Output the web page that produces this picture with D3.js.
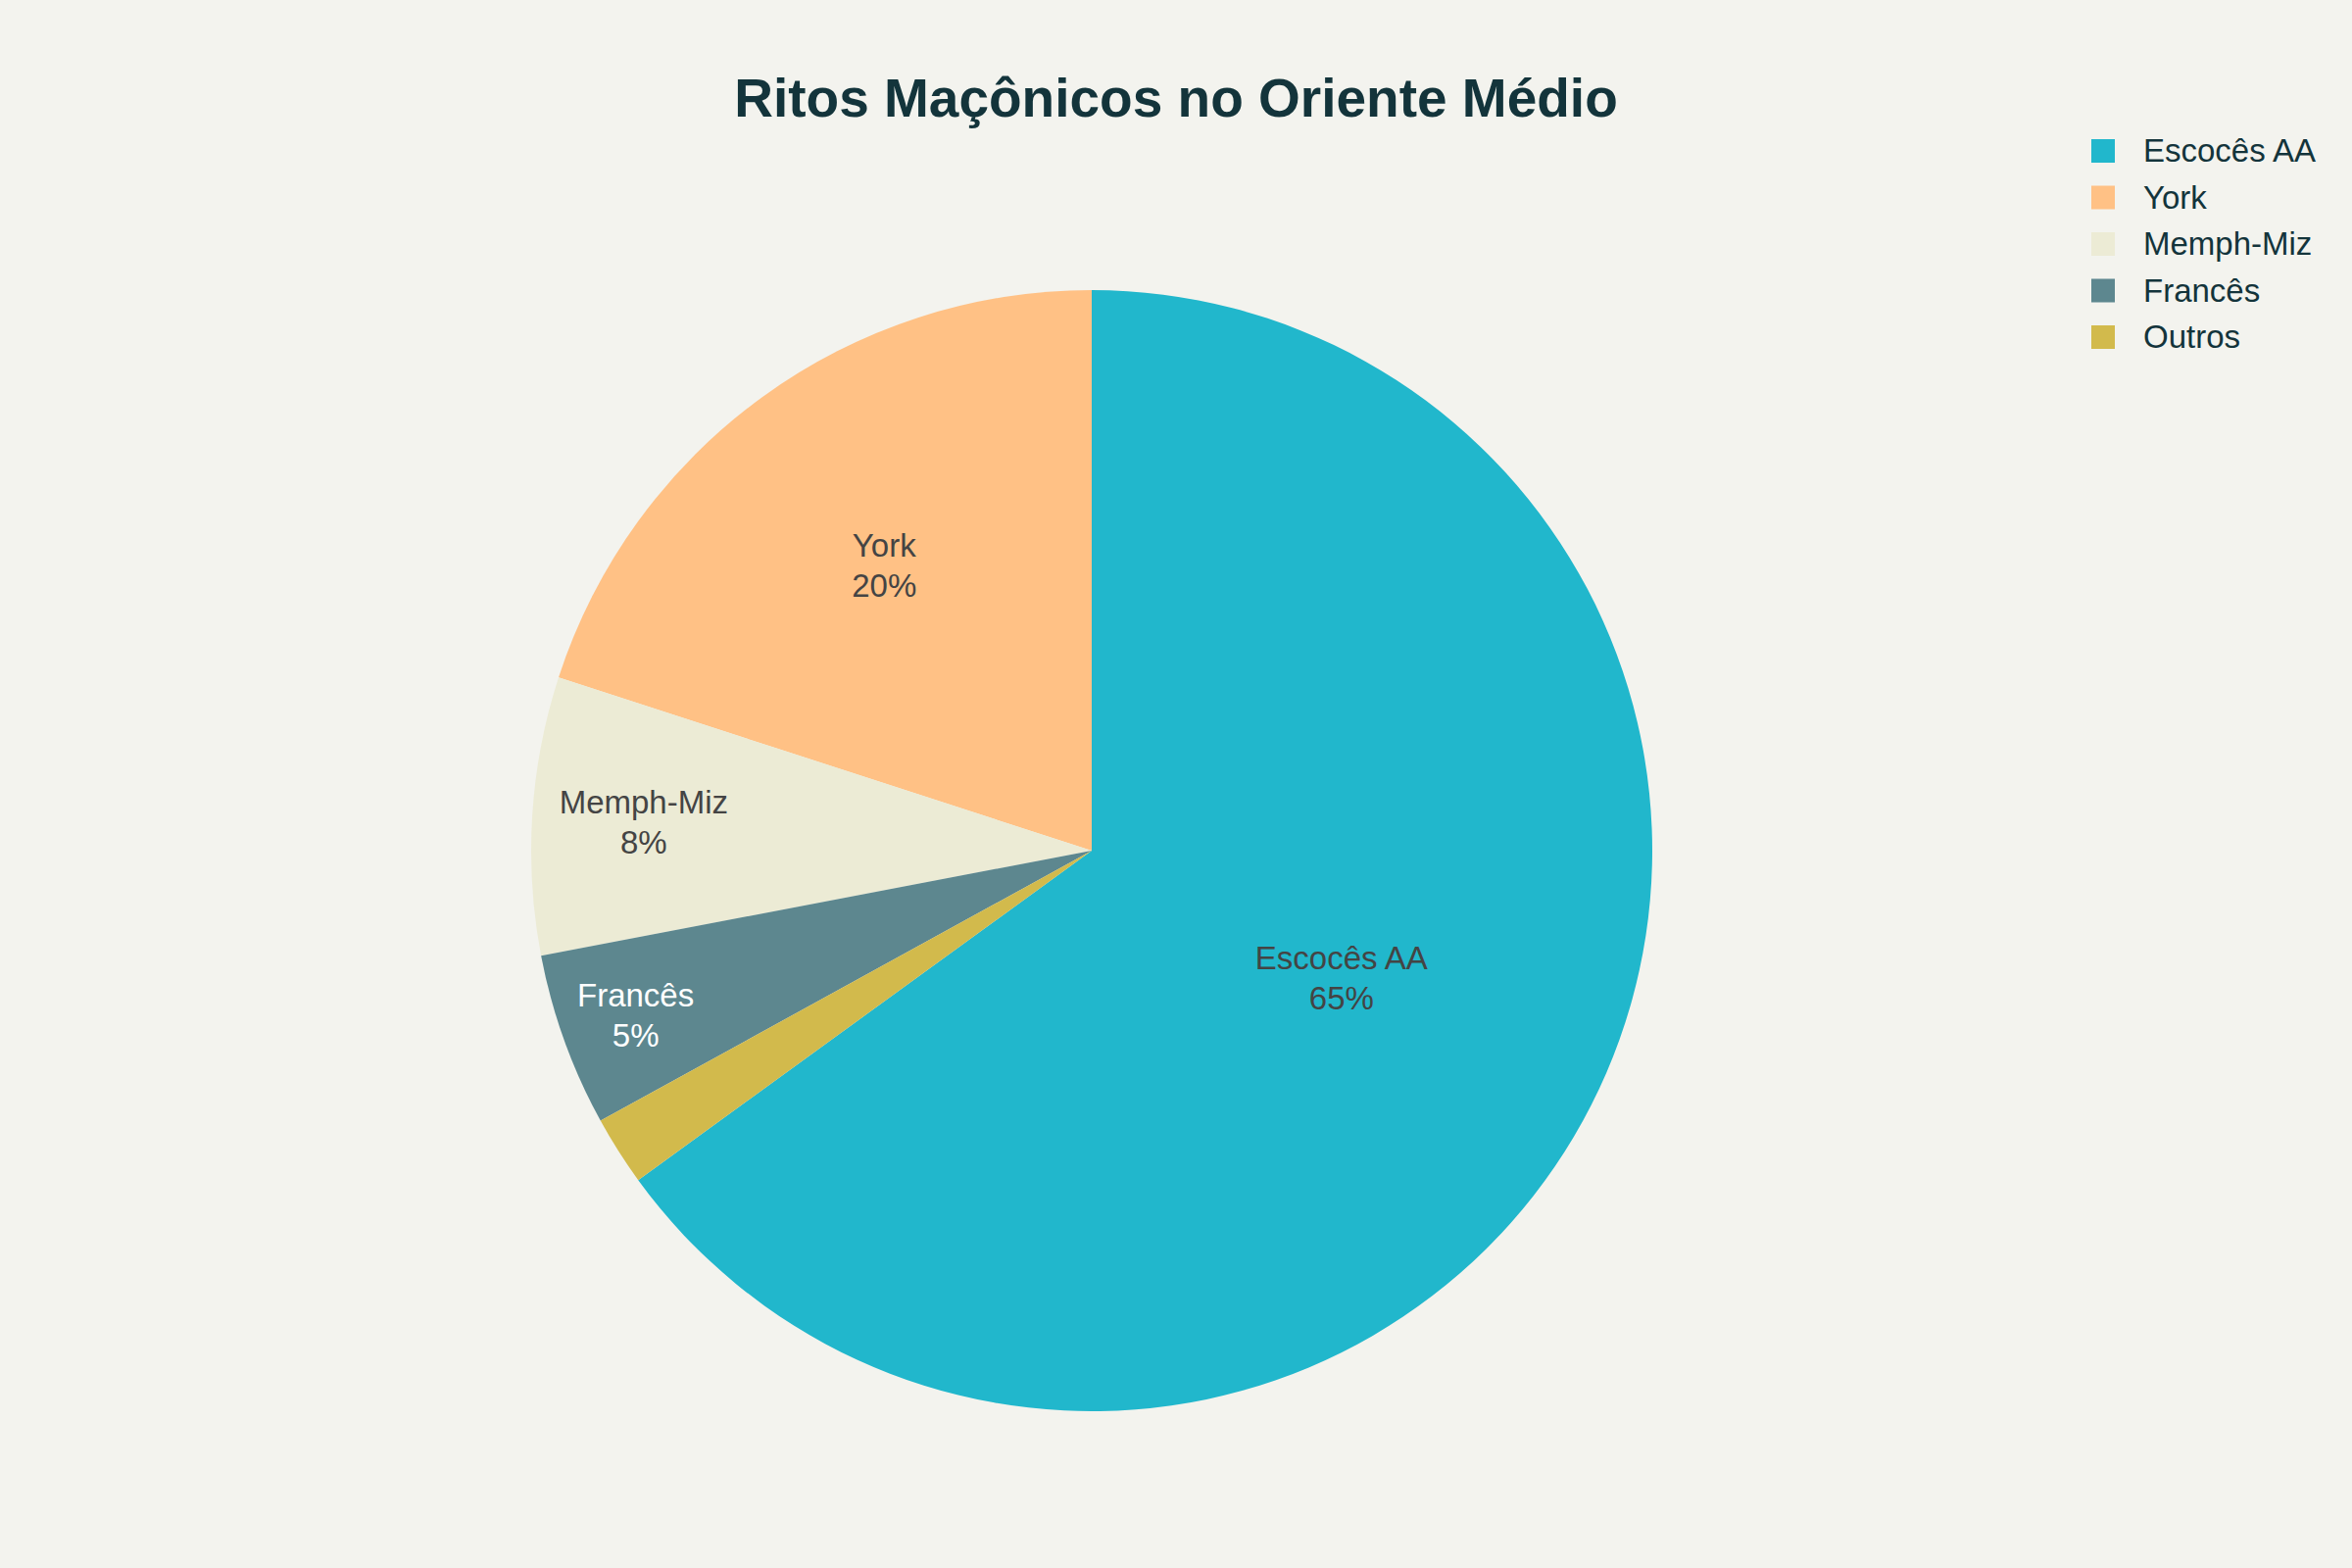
<!DOCTYPE html>
<html>
<head>
<meta charset="utf-8">
<script src="https://cdn.jsdelivr.net/npm/d3@7"></script>
<style>
  body { margin: 0; background: #f3f3ee; }
</style>
</head>
<body>
<script>
// ritos e percentuais
const ritos = ['Escocês AA', 'York', 'Memph-Miz', 'Francês', 'Outros'];
const percentuais = [65, 20, 8, 5, 2];
const cores = ['#21b7cc', '#ffc185', '#ecebd5', '#5d878f', '#d2ba4c'];
const corTexto = ['#444444', '#444444', '#444444', '#ffffff', '#444444'];
// ordem das fatias no sentido horario a partir do topo
const ordemFatias = ['Escocês AA', 'Outros', 'Francês', 'Memph-Miz', 'York'];

const width = 2400,
  height = 1600;
const cx = 1114,
  cy = 868,
  radius = 572;

const svg = d3
  .select('body')
  .append('svg')
  .attr('width', width)
  .attr('height', height)
  .style('font-family', '"Liberation Sans", Arial, sans-serif');

svg.append('rect').attr('width', width).attr('height', height).attr('fill', '#f3f3ee');

svg
  .append('text')
  .attr('x', width / 2)
  .attr('y', 119)
  .attr('text-anchor', 'middle')
  .style('font-size', '55px')
  .style('font-weight', 'bold')
  .style('fill', '#13343b')
  .text('Ritos Maçônicos no Oriente Médio');

const dados = ritos.map((r, i) => ({ nome: r, valor: percentuais[i], cor: cores[i], texto: corTexto[i] }));
const total = d3.sum(percentuais);

const pie = d3
  .pie()
  .sort((a, b) => ordemFatias.indexOf(a.nome) - ordemFatias.indexOf(b.nome))
  .value(d => d.valor);

const arc = d3.arc().innerRadius(0).outerRadius(radius);

const g = svg.append('g').attr('transform', `translate(${cx},${cy})`);
const fatias = pie(dados);

g.selectAll('path')
  .data(fatias)
  .enter()
  .append('path')
  .attr('d', arc)
  .attr('fill', d => d.data.cor);

// posicao do rotulo: centro do circulo inscrito na fatia
function posRotulo(d) {
  const half = Math.min(Math.PI / 2, (Math.PI * d.data.valor) / total);
  const rIns = Math.sin(half) / (1 + Math.sin(half));
  const r = radius * (1 - rIns);
  const a = (d.startAngle + d.endAngle) / 2;
  return [r * Math.sin(a), -r * Math.cos(a)];
}

const rotulos = g
  .selectAll('.rotulo')
  .data(fatias.filter(d => d.data.valor >= 5))
  .enter()
  .append('text')
  .attr('class', 'rotulo')
  .attr('text-anchor', 'middle')
  .style('font-size', '33px')
  .style('fill', d => d.data.texto)
  .attr('transform', d => `translate(${posRotulo(d)})`);

rotulos.append('tspan').attr('x', 0).attr('y', -9).text(d => d.data.nome);
rotulos
  .append('tspan')
  .attr('x', 0)
  .attr('y', 32)
  .text(d => Math.round((d.data.valor / total) * 100) + '%');

// legenda
const legenda = svg.append('g').attr('transform', 'translate(2134,154)');
const itens = legenda
  .selectAll('g')
  .data(dados)
  .enter()
  .append('g')
  .attr('transform', (d, i) => `translate(0,${i * 47.5})`);

itens
  .append('rect')
  .attr('x', 0)
  .attr('y', -12)
  .attr('width', 24)
  .attr('height', 24)
  .attr('fill', d => d.cor);

itens
  .append('text')
  .attr('x', 53)
  .attr('y', 11)
  .style('font-size', '33px')
  .style('fill', '#13343b')
  .text(d => d.nome);
</script>
</body>
</html>
